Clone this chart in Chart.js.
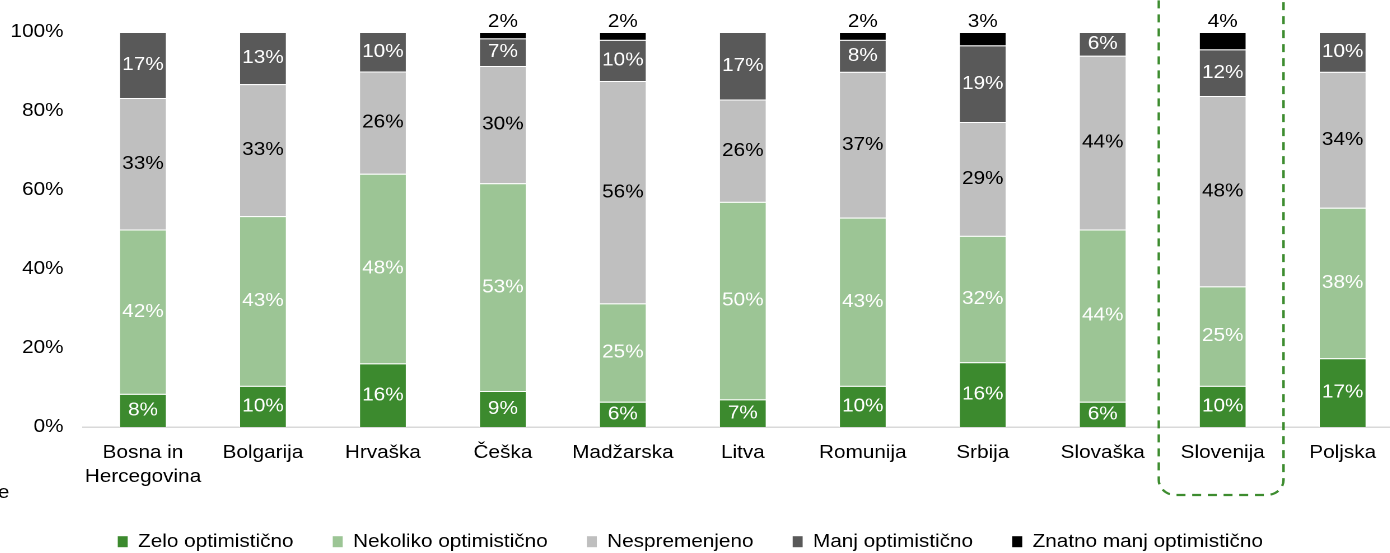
<!DOCTYPE html>
<html><head><meta charset="utf-8">
<script src="https://cdn.jsdelivr.net/npm/chart.js@4"></script>
<style>
html,body{margin:0;padding:0;background:#fff;overflow:hidden;width:1390px;height:553px;}
#wrap{position:absolute;left:-22.5px;top:0;width:1272px;height:553px;transform:scaleX(1.12);transform-origin:0 0;}
</style></head><body>
<div id="wrap"><canvas id="c" width="1272" height="553"></canvas></div>
<script>
const categories = [['Bosna in','Hercegovina'],'Bolgarija','Hrvaška','Češka','Madžarska','Litva','Romunija','Srbija','Slovaška','Slovenija','Poljska'];
const seriesNames = ['Zelo optimistično','Nekoliko optimistično','Nespremenjeno','Manj optimistično','Znatno manj optimistično'];
const zelo        = [8.4, 10.4, 16.1, 9.1, 6.4, 7.0, 10.4, 16.4, 6.4, 10.4, 17.4];
const nekoliko    = [41.6, 43.0, 48.0, 52.6, 24.9, 50.0, 42.6, 32.0, 43.6, 25.2, 38.1];
const nespremenjeno = [33.3, 33.4, 25.9, 29.7, 56.3, 25.9, 36.9, 28.8, 44.0, 48.2, 34.4];
const manj        = [16.7, 13.2, 10.0, 7.0, 10.4, 17.1, 8.1, 19.4, 6.0, 11.8, 10.1];
const znatno      = [0, 0, 0, 1.6, 2.0, 0, 2.0, 3.4, 0, 4.4, 0];
const yTicks = [0, 20, 40, 60, 80, 100];
const highlighted = 'Slovenija';

const colors = ['#3c8a2e', '#9cc595', '#bfbfbf', '#595959', '#000000'];
const labelColors = ['#ffffff', '#ffffff', '#000000', '#ffffff', '#000000'];
const FONT = '"Liberation Sans", Arial, sans-serif';
const FS = 18.5;

Chart.defaults.font.family = FONT;
Chart.defaults.font.size = FS;
Chart.defaults.color = '#000';

const valueLabels = {
  id: 'valueLabels',
  afterDatasetsDraw(chart) {
    const ctx = chart.ctx;
    ctx.save();
    ctx.font = FS + 'px ' + FONT;
    ctx.textAlign = 'center';
    ctx.textBaseline = 'middle';
    chart.data.datasets.forEach((ds, di) => {
      const meta = chart.getDatasetMeta(di);
      meta.data.forEach((el, i) => {
        const v = ds.data[i];
        if (!v) return;
        const txt = Math.round(v) + '%';
        ctx.fillStyle = labelColors[di];
        if (di === 4) ctx.fillText(txt, el.x, el.y - 10);
        else ctx.fillText(txt, el.x, (el.y + el.base) / 2);
      });
    });
    ctx.restore();
  }
};

const extras = {
  id: 'extras',
  afterDraw(chart) {
    const ctx = chart.ctx;
    const xs = chart.scales.x;
    const idx = categories.indexOf(highlighted);
    const cw = xs.width / categories.length;
    const cx = xs.getPixelForValue(idx) - 0.013 * cw;
    const half = cw * 0.52;
    const top = -20, bottom = chart.chartArea.bottom + 68;
    ctx.save();
    ctx.strokeStyle = '#3d8c2f';
    ctx.lineWidth = 2.2;
    ctx.setLineDash([8, 6]);
    ctx.beginPath();
    ctx.roundRect(cx - half, top, half * 2, bottom - top, 15);
    ctx.stroke();
    ctx.restore();
    ctx.save();
    ctx.font = FS + 'px ' + FONT;
    ctx.fillStyle = '#000';
    ctx.textAlign = 'right';
    ctx.textBaseline = 'alphabetic';
    ctx.fillText('e', 28, 498);
    ctx.restore();
  }
};

const dataArrays = [zelo, nekoliko, nespremenjeno, manj, znatno];

new Chart(document.getElementById('c'), {
  type: 'bar',
  data: {
    labels: categories,
    datasets: dataArrays.map((d, i) => ({
      label: seriesNames[i],
      data: d,
      backgroundColor: colors[i],
      borderColor: 'rgba(255,255,255,0.55)',
      borderWidth: 1,
      barPercentage: 0.4,
      categoryPercentage: 1.0
    }))
  },
  options: {
    responsive: false,
    devicePixelRatio: 2,
    animation: false,
    layout: { padding: { top: 32, left: 0, right: 0, bottom: 0 } },
    plugins: {
      tooltip: { enabled: false },
      legend: {
        position: 'bottom',
        align: 'center',
        maxHeight: 55.55,
        labels: {
          boxWidth: 8.9,
          boxHeight: 11,
          padding: 35,
          color: '#000',
          font: { size: FS },
          generateLabels(chart) {
            return Chart.defaults.plugins.legend.labels.generateLabels(chart).map(l => ({ ...l, lineWidth: 0, strokeStyle: 'rgba(0,0,0,0)' }));
          }
        }
      }
    },
    scales: {
      x: {
        stacked: true,
        offset: true,
        grid: { display: false, drawTicks: false },
        border: { display: true, color: '#d9d9d9', width: 1.5 },
        ticks: { color: '#000', font: { size: FS, lineHeight: 1.3 }, padding: 14, maxRotation: 0, autoSkip: false },
        afterFit(s) { s.height = 70.45; }
      },
      y: {
        stacked: true,
        min: 0,
        max: 100,
        afterBuildTicks(s) { s.ticks = yTicks.map(v => ({ value: v })); },
        ticks: { color: '#000', padding: 17.4, callback: v => v + '%', font: { size: FS } },
        grid: { display: false, drawTicks: false },
        border: { display: false },
        afterFit(s) { s.width = 93.75; }
      }
    }
  },
  plugins: [valueLabels, extras]
});
</script>
</body></html>
